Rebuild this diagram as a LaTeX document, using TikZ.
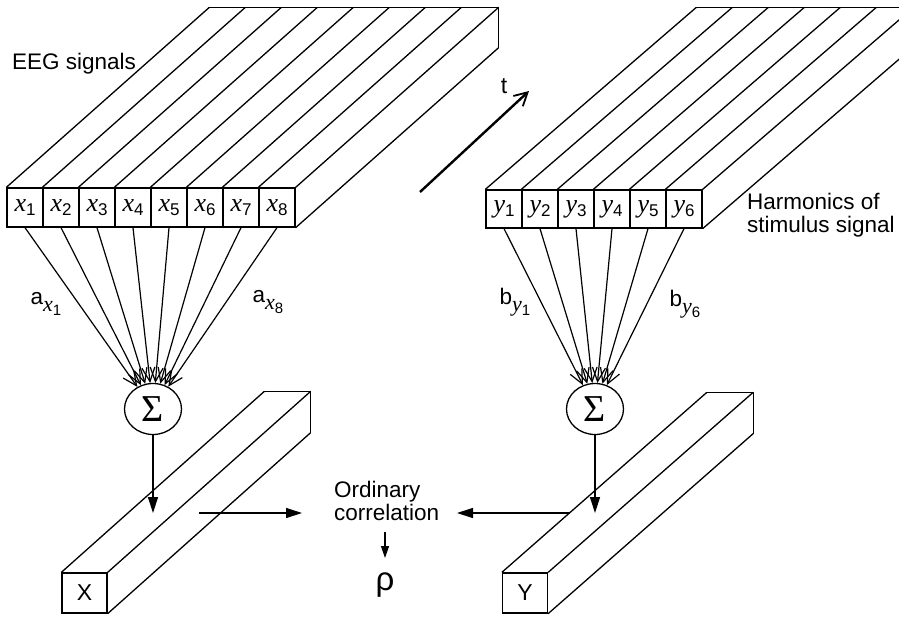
\documentclass[tikz,border=0pt]{standalone}
\usepackage{fontspec}
\setmainfont{Liberation Sans}
\newfontfamily\timfont{Liberation Serif}
\usetikzlibrary{arrows.meta,shapes.geometric}
\newcommand{\vlab}[2]{{\timfont\itshape\fontsize{26}{26}\selectfont #1}\raisebox{-4pt}{\fontsize{17}{17}\selectfont #2}}
\newcommand{\coef}[3]{{\fontsize{22.5}{22.5}\selectfont #1}\raisebox{-7pt}{{\timfont\itshape\fontsize{22}{22}\selectfont #2}\raisebox{-4pt}{\fontsize{15}{15}\selectfont #3}}}
\tikzset{
  ln/.style={line width=1.3pt, line join=round},
  cell/.style={draw, line width=1.3pt, minimum width=36pt, inner sep=0pt},
  sig/.style={draw, line width=1.3pt, ellipse, minimum width=57pt, minimum height=51pt, inner sep=0pt, font=\timfont\fontsize{38}{38}\selectfont},
  fan/.style={line width=1.2pt, -{Straight Barb[length=14pt,width=13pt,line width=1.2pt]}},
  tri/.style={line width=1.3pt, -{Triangle[length=16pt,width=10pt]}},
  smalltri/.style={line width=1.3pt, -{Triangle[length=12pt,width=8pt]}},
  lbl/.style={font=\fontsize{22.5}{23}\selectfont, inner sep=0pt},
  bar/.style={draw, line width=1.3pt, minimum width=45pt, minimum height=40pt, inner sep=0pt, font=\fontsize{23}{23}\selectfont}
}
\begin{document}
\begin{tikzpicture}[x=1pt,y=-1pt]
\useasboundingbox (0,0) rectangle (899,618);
\clip (0,0) rectangle (899,618);
% ---- EEG slab ----
\foreach \i in {1,...,8}{
  \node[cell, minimum height=39pt] (x\i) at ({25+36*(\i-1)},207.5) {\vlab{x}{\i}};
}
\foreach \i in {1,...,8}{
  \draw[ln] (x\i.north west) -- ++(203,-180);
}
\draw[ln] (x8.north east) -- ++(203,-180) coordinate (xbr);
\draw[ln] (x8.south east) -- ++(203,-180) coordinate (xbrb);
\draw[ln] ([xshift=203pt,yshift=180pt]x1.north west) -- (xbr) -- (xbrb);
\node[lbl, anchor=base west] (eeg) at (12,70) {EEG signals};
% ---- harmonics slab ----
\foreach \i in {1,...,6}{
  \node[cell, minimum height=38pt] (y\i) at ({504+36*(\i-1)},209) {\vlab{y}{\i}};
}
\foreach \i in {1,...,6}{
  \draw[ln] (y\i.north west) -- ++(211,-182);
}
\draw[ln] (y6.north east) -- ++(211,-182) coordinate (ybr);
\draw[ln] (y6.south east) -- ++(211,-182) coordinate (ybrb);
\draw[ln] ([xshift=211pt,yshift=182pt]y1.north west) -- (ybr) -- (ybrb);
\node[lbl, anchor=base west] (harm1) at (747,209) {Harmonics of};
\node[lbl, anchor=base west] (harm2) at (747,232) {stimulus signal};
% ---- time arrow ----
\coordinate (t0) at (420,192);
\coordinate (t1) at (529,91);
\draw[line width=2.4pt, -{Straight Barb[length=13pt,width=14pt,line width=1.8pt]}] (t0) -- (t1);
\node[lbl, font=\fontsize{23}{23}\selectfont] (tl) at (504,86) {t};
% ---- sums ----
\node[sig] (sL) at (153,409) {Σ};
\node[sig] (sR) at (595,409) {Σ};
\foreach \i in {1,...,8}{ \draw[fan] (x\i.south) -- (sL); }
\foreach \i in {1,...,6}{ \draw[fan] (y\i.south) -- (sR); }
\node[inner sep=0pt] (ax1) at (46,304) {\coef{a}{x}{1}};
\node[inner sep=0pt] (ax8) at (268,302) {\coef{a}{x}{8}};
\node[inner sep=0pt] (by1) at (515,302) {\coef{b}{y}{1}};
\node[inner sep=0pt] (by6) at (685,304) {\coef{b}{y}{6}};
% ---- bars ----
\node[bar] (X) at (84.5,593) {X};
\draw[ln] (X.north west) -- ++(203,-181) coordinate (XA);
\draw[ln] (X.north east) -- ++(203,-181) coordinate (XB);
\draw[ln] (X.south east) -- ++(203,-181) coordinate (XC);
\draw[ln] (XA) -- (XB) -- (XC);
\node[bar] (Y) at (525,593) {Y};
\draw[ln] (Y.north west) -- ++(205,-180) coordinate (YA);
\draw[ln] (Y.north east) -- ++(205,-180) coordinate (YB);
\draw[ln] (Y.south east) -- ++(205,-180) coordinate (YC);
\draw[ln] (YA) -- (YB) -- (YC);
% ---- flow ----
\coordinate (dL) at (153,513);
\coordinate (dR) at (595,513);
\draw[tri] (sL) -- (dL);
\draw[tri] (sR) -- (dR);
\node[lbl, align=left, anchor=north west] (corr) at (334,481) {Ordinary\\correlation};
\coordinate (hL0) at (199,513);
\coordinate (hL1) at (302,513);
\coordinate (hR0) at (570,513);
\coordinate (hR1) at (457,513);
\draw[tri] (hL0) -- (hL1);
\draw[tri] (hR0) -- (hR1);
\node[inner sep=0pt, font=\fontsize{33}{33}\selectfont] (rho) at (385,585) {ρ};
\coordinate (c0) at (385,532);
\coordinate (c1) at (385,558);
\draw[smalltri] (c0) -- (c1);
\end{tikzpicture}
\end{document}
